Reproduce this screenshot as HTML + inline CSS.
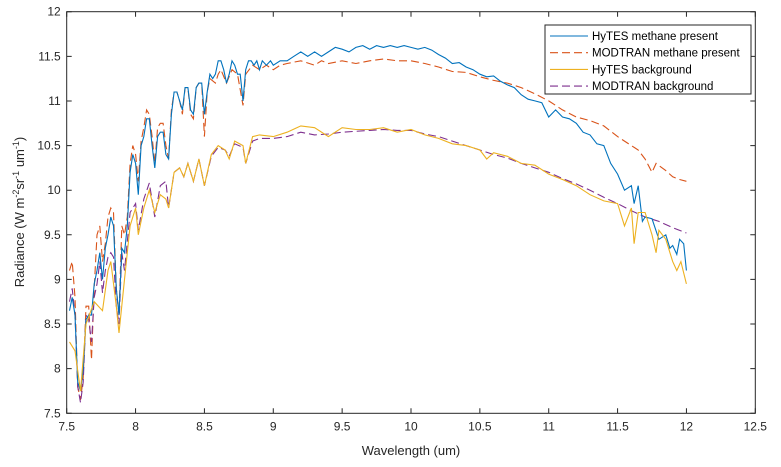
<!DOCTYPE html>
<html><head><meta charset="utf-8"><style>
body{margin:0;background:#fff;}
svg{display:block;font-family:"Liberation Sans",sans-serif;}
</style></head><body>
<svg id="chart" width="781" height="467" viewBox="0 0 781 467">
<rect x="0" y="0" width="781" height="467" fill="#fff"/>
<g id="grid"></g>
<g id="series"></g>
<rect x="66.7" y="11.7" width="688.6" height="401.6" fill="none" stroke="#262626" stroke-width="1"/>
<g id="axes" font-size="12" fill="#262626"></g>
<text x="411" y="455" font-size="13" fill="#262626" text-anchor="middle">Wavelength (um)</text>
<text transform="translate(24,212) rotate(-90)" font-size="13" fill="#262626" text-anchor="middle">Radiance (W m<tspan dy="-5" font-size="9">-2</tspan><tspan dy="5">sr</tspan><tspan dy="-5" font-size="9">-1</tspan><tspan dy="5"> um</tspan><tspan dy="-5" font-size="9">-1</tspan><tspan dy="5">)</tspan></text>
<g id="legend">
<rect x="545" y="25" width="206" height="69" fill="#fff" stroke="#262626" stroke-width="1"/>
</g>
</svg>
<script>
const xTicks=[7.5,8,8.5,9,9.5,10,10.5,11,11.5,12,12.5];
const yTicks=[7.5,8,8.5,9,9.5,10,10.5,11,11.5,12];
const seriesNames=["HyTES methane present","MODTRAN methane present","HyTES background","MODTRAN background"];
const hytesMethaneX=[7.52,7.54,7.56,7.58,7.6,7.62,7.64,7.66,7.68,7.7,7.72,7.74,7.76,7.78,7.8,7.82,7.84,7.86,7.88,7.9,7.92,7.94,7.96,7.98,8.0,8.02,8.04,8.06,8.08,8.1,8.12,8.14,8.16,8.18,8.2,8.22,8.24,8.26,8.28,8.3,8.32,8.34,8.36,8.38,8.4,8.42,8.44,8.46,8.48,8.5,8.52,8.54,8.56,8.58,8.6,8.62,8.64,8.66,8.68,8.7,8.72,8.74,8.76,8.78,8.8,8.82,8.84,8.86,8.88,8.9,8.92,8.95,8.98,9.0,9.05,9.1,9.15,9.2,9.25,9.3,9.35,9.4,9.45,9.5,9.55,9.6,9.65,9.7,9.75,9.8,9.85,9.9,9.95,10.0,10.05,10.1,10.15,10.2,10.25,10.3,10.35,10.4,10.45,10.5,10.55,10.6,10.65,10.7,10.75,10.8,10.85,10.9,10.95,11.0,11.05,11.1,11.15,11.2,11.25,11.3,11.35,11.4,11.45,11.5,11.55,11.6,11.62,11.65,11.68,11.7,11.75,11.8,11.85,11.88,11.9,11.93,11.95,11.98,12.0];
const hytesMethaneY=[8.65,8.8,8.6,7.85,7.75,8.0,8.55,8.6,8.6,8.95,9.1,9.3,9.0,9.35,9.5,9.7,9.6,8.9,8.6,9.35,9.3,9.6,10.2,10.4,10.3,9.95,10.5,10.6,10.8,10.8,10.5,10.25,10.6,10.65,10.65,10.4,10.35,10.85,11.1,11.1,11.0,10.9,11.15,11.15,10.9,10.85,11.15,11.2,11.2,10.85,11.1,11.3,11.25,11.3,11.45,11.45,11.35,11.2,11.3,11.45,11.4,11.3,11.3,11.0,11.35,11.45,11.45,11.4,11.45,11.35,11.45,11.4,11.45,11.4,11.45,11.45,11.5,11.55,11.5,11.55,11.5,11.55,11.6,11.58,11.55,11.6,11.62,11.58,11.62,11.6,11.62,11.6,11.62,11.6,11.58,11.6,11.57,11.52,11.48,11.42,11.43,11.38,11.35,11.3,11.27,11.28,11.22,11.18,11.15,11.07,11.02,11.0,10.98,10.82,10.9,10.82,10.8,10.75,10.65,10.62,10.52,10.5,10.3,10.18,10.0,10.05,9.85,10.05,9.65,9.7,9.68,9.45,9.5,9.35,9.38,9.28,9.45,9.4,9.1];
const modtranMethaneX=[7.52,7.54,7.56,7.58,7.6,7.62,7.64,7.66,7.68,7.7,7.72,7.74,7.76,7.78,7.8,7.82,7.84,7.86,7.88,7.9,7.92,7.94,7.96,7.98,8.0,8.02,8.04,8.06,8.08,8.1,8.12,8.14,8.16,8.18,8.2,8.22,8.24,8.26,8.28,8.3,8.32,8.34,8.36,8.38,8.4,8.42,8.44,8.46,8.48,8.5,8.52,8.54,8.58,8.6,8.62,8.66,8.7,8.74,8.78,8.8,8.85,8.9,8.95,9.0,9.05,9.1,9.2,9.3,9.35,9.4,9.5,9.6,9.7,9.8,9.9,10.0,10.1,10.2,10.3,10.4,10.5,10.6,10.7,10.8,10.9,11.0,11.1,11.2,11.3,11.4,11.5,11.6,11.65,11.7,11.75,11.78,11.85,11.9,11.95,12.0];
const modtranMethaneY=[9.1,9.2,8.8,7.8,7.65,7.9,8.7,8.7,8.1,8.9,9.5,9.6,9.2,9.4,9.7,9.8,9.75,8.9,8.6,9.6,9.5,9.7,10.3,10.5,10.4,10.1,10.55,10.7,10.9,10.85,10.6,10.3,10.7,10.75,10.75,10.5,10.35,10.9,11.1,11.1,11.0,10.85,11.15,11.15,10.85,10.8,11.15,11.2,11.2,10.6,11.1,11.25,11.2,11.3,11.35,11.2,11.35,11.3,10.95,11.3,11.4,11.35,11.4,11.35,11.4,11.42,11.45,11.4,11.45,11.42,11.45,11.42,11.45,11.47,11.45,11.45,11.42,11.38,11.33,11.32,11.27,11.23,11.2,11.15,11.08,11.0,10.9,10.82,10.78,10.72,10.6,10.5,10.45,10.35,10.2,10.3,10.22,10.15,10.12,10.1];
const hytesBgX=[7.52,7.56,7.6,7.64,7.7,7.76,7.8,7.82,7.86,7.88,7.92,7.96,8.0,8.02,8.06,8.1,8.14,8.18,8.22,8.24,8.28,8.32,8.35,8.38,8.42,8.46,8.5,8.55,8.6,8.65,8.68,8.72,8.78,8.8,8.85,8.9,9.0,9.1,9.2,9.3,9.4,9.5,9.6,9.7,9.8,9.9,10.0,10.1,10.2,10.3,10.4,10.5,10.55,10.6,10.7,10.8,10.9,11.0,11.1,11.2,11.3,11.4,11.5,11.55,11.6,11.62,11.65,11.7,11.75,11.78,11.8,11.85,11.9,11.93,11.96,12.0];
const hytesBgY=[8.3,8.2,7.75,8.5,8.75,8.65,9.1,9.2,8.7,8.4,9.0,9.6,9.8,9.5,9.8,10.0,9.75,9.95,9.9,9.8,10.2,10.25,10.15,10.3,10.1,10.35,10.05,10.4,10.5,10.45,10.35,10.55,10.5,10.3,10.6,10.62,10.6,10.65,10.72,10.7,10.6,10.7,10.68,10.68,10.7,10.65,10.68,10.62,10.58,10.52,10.5,10.45,10.35,10.42,10.38,10.3,10.28,10.18,10.12,10.05,9.95,9.88,9.85,9.6,9.8,9.4,9.75,9.75,9.5,9.3,9.55,9.45,9.2,9.1,9.2,8.95];
const modtranBgX=[7.52,7.54,7.56,7.58,7.6,7.62,7.64,7.66,7.68,7.7,7.72,7.74,7.76,7.78,7.8,7.82,7.84,7.86,7.88,7.9,7.92,7.96,8.0,8.02,8.06,8.1,8.14,8.18,8.22,8.24,8.28,8.32,8.35,8.38,8.42,8.46,8.5,8.55,8.6,8.65,8.68,8.72,8.78,8.8,8.85,8.9,9.0,9.1,9.2,9.3,9.4,9.5,9.6,9.7,9.8,9.9,10.0,10.1,10.2,10.3,10.4,10.5,10.6,10.7,10.8,10.9,11.0,11.1,11.2,11.3,11.4,11.5,11.6,11.7,11.8,11.9,12.0];
const modtranBgY=[8.75,8.9,8.6,7.8,7.62,7.85,8.6,8.55,8.3,8.8,8.95,9.2,8.85,9.1,9.25,9.3,9.25,8.7,8.5,9.3,9.1,9.75,9.85,9.55,9.9,10.08,9.7,10.05,10.1,9.8,10.2,10.25,10.15,10.3,10.1,10.35,10.05,10.38,10.48,10.45,10.38,10.52,10.48,10.3,10.55,10.58,10.58,10.6,10.65,10.62,10.63,10.65,10.66,10.67,10.68,10.67,10.67,10.63,10.6,10.55,10.5,10.45,10.4,10.36,10.3,10.25,10.2,10.13,10.07,10.0,9.92,9.85,9.77,9.7,9.65,9.58,9.52];

const L=66.7,R=755.3,T=11.7,B=413.3;
const sx=v=>L+(v-7.5)/5*(R-L);
const sy=v=>B-(v-7.5)/4.5*(B-T);
const NS="http://www.w3.org/2000/svg";
const axes=document.getElementById('axes');
function mk(tag,attrs,parent){const e=document.createElementNS(NS,tag);for(const k in attrs)e.setAttribute(k,attrs[k]);parent.appendChild(e);return e;}
xTicks.forEach(t=>{
  const x=sx(t);
  const tk=mk('path',{d:`M${x},${B}v-5M${x},${T}v5`,stroke:'#262626','stroke-width':1,fill:'none'},axes);
  
  
  const lb=mk('text',{x:x,y:B+17,'text-anchor':'middle'},axes);
  lb.textContent=String(t);
  
  
});
yTicks.forEach(t=>{
  const y=sy(t);
  const tk=mk('path',{d:`M${L},${y}h5M${R},${y}h-5`,stroke:'#262626','stroke-width':1,fill:'none'},axes);
  
  
  const lb=mk('text',{x:L-6,y:y+4,'text-anchor':'end'},axes);
  lb.textContent=String(t);
  
  
});
const styles=[
 {xs:hytesMethaneX,ys:hytesMethaneY,c:'#0072BD',d:'',n:'hytes-methane-line'},
 {xs:modtranMethaneX,ys:modtranMethaneY,c:'#D95319',d:'8,4',n:'modtran-methane-line'},
 {xs:hytesBgX,ys:hytesBgY,c:'#EDB120',d:'',n:'hytes-background-line'},
 {xs:modtranBgX,ys:modtranBgY,c:'#7E2F8E',d:'8,4',n:'modtran-background-line'}
];
const sg=document.getElementById('series');
[1,3,0,2].forEach(i=>{
  const s=styles[i];
  const d=s.xs.map((x,j)=>(j?'L':'M')+sx(x).toFixed(1)+','+sy(s.ys[j]).toFixed(1)).join('');
  const p=mk('path',{d:d,fill:'none',stroke:s.c,'stroke-width':1.1},sg);
  if(s.d)p.setAttribute('stroke-dasharray',s.d);
  
  
});
const lg=document.getElementById('legend');
seriesNames.forEach((nm,i)=>{
  const y=36+i*16.7;
  const s=styles[i];
  const ln=mk('line',{x1:550,x2:588,y1:y,y2:y,stroke:s.c,'stroke-width':1.1},lg);
  if(s.d)ln.setAttribute('stroke-dasharray',s.d);
  
  
  const tx=mk('text',{x:592,y:y+4,'font-size':11.5,fill:'#000'},lg);
  tx.textContent=nm;
  
  
});
</script>
</body></html>
